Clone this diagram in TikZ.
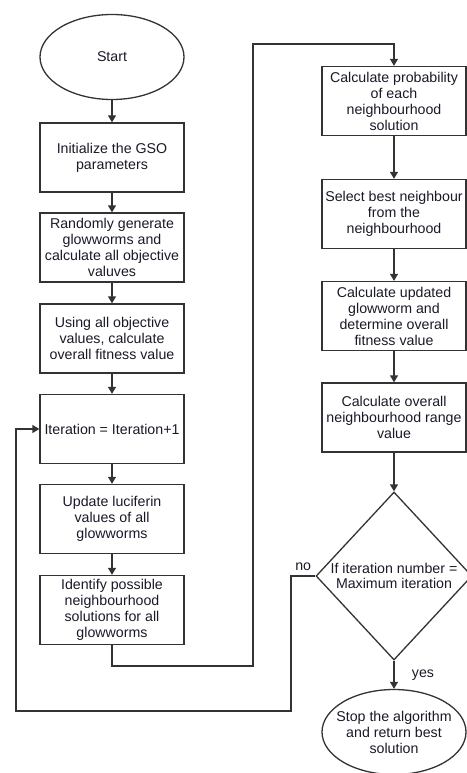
\documentclass[tikz,border=0pt]{standalone}
\usepackage{fontspec}
\setmainfont{Liberation Sans}
\usepackage{tikz}
\usetikzlibrary{arrows.meta, shapes.geometric, positioning}
\definecolor{flowline}{RGB}{51,51,51}
\definecolor{flowtext}{RGB}{25,25,40}

\begin{document}
\begin{tikzpicture}[
    x=1pt, y=-1pt,
    every node/.style={font=\fontsize{14.2}{16}\selectfont, text=flowtext},
    stepbox/.style={rectangle, draw=flowline, line width=1.3pt, minimum width=144pt, minimum height=69pt, inner sep=1pt, align=center},
    terminal/.style={ellipse, draw=flowline, line width=1.3pt, minimum width=144pt, minimum height=85pt, inner xsep=-14pt, inner ysep=-8pt, align=center},
    decision/.style={diamond, draw=flowline, line width=1.3pt, minimum width=156pt, minimum height=168pt, inner sep=0pt, align=center, font=\fontsize{14.2}{15}\selectfont},
    arrow/.style={-{Triangle[length=7pt, width=8pt]}, line width=1.3pt, draw=flowline}
]
    \useasboundingbox (0,0) rectangle (466,773);

    % Left column
    \node[terminal] (start) at (112, 57) {Start};
    \node[stepbox] (init) at (112, 157.5) {Initialize the GSO\\parameters};
    \node[stepbox] (rand) at (112, 247.5) {Randomly generate\\glowworms and\\calculate all objective\\valuves};
    \node[stepbox] (fitness) at (112, 338.5) {Using all objective\\values, calculate\\overall fitness value};
    \node[stepbox] (iter) at (112, 429) {Iteration = Iteration+1};
    \node[stepbox] (lucif) at (112, 519) {Update luciferin\\values of all\\glowworms};
    \node[stepbox] (ident) at (112, 610) {Identify possible\\neighbourhood\\solutions for all\\glowworms};

    % Right column
    \node[stepbox] (prob) at (394, 101) {Calculate probability\\of each\\neighbourhood\\solution};
    \node[stepbox] (select) at (394, 214) {Select best neighbour\\from the\\neighbourhood};
    \node[stepbox] (update) at (394, 316) {Calculate updated\\glowworm and\\determine overall\\fitness value};
    \node[stepbox] (range) at (394, 417.5) {Calculate overall\\neighbourhood range\\value};
    \node[decision] (check) at (394, 576) {If iteration number =\\Maximum iteration};
    \node[terminal] (stop) at (394, 732) {Stop the algorithm\\and return best\\solution};

    % Turning points
    \coordinate (down) at (253, 666);
    \coordinate (up) at (253, 44);
    \coordinate (noturn) at (291, 711);
    \coordinate (loopback) at (16, 711);

    % Arrows, left column
    \draw[arrow] (start) -- (init);
    \draw[arrow] (init) -- (rand);
    \draw[arrow] (rand) -- (fitness);
    \draw[arrow] (fitness) -- (iter);
    \draw[arrow] (iter) -- (lucif);
    \draw[arrow] (lucif) -- (ident);

    % Across to the right column
    \draw[arrow] (ident.south) |- (down) -- (up) -| (prob.north);

    % Arrows, right column
    \draw[arrow] (prob) -- (select);
    \draw[arrow] (select) -- (update);
    \draw[arrow] (update) -- (range);
    \draw[arrow] (range) -- (check);
    \draw[arrow] (check) -- (stop) node[midway, right=14pt] {yes};

    % Back to the loop
    \draw[arrow] (check.west) -| node[pos=0.25, above=1pt] {no} (noturn) -- (loopback) |- (iter.west);
\end{tikzpicture}
\end{document}
